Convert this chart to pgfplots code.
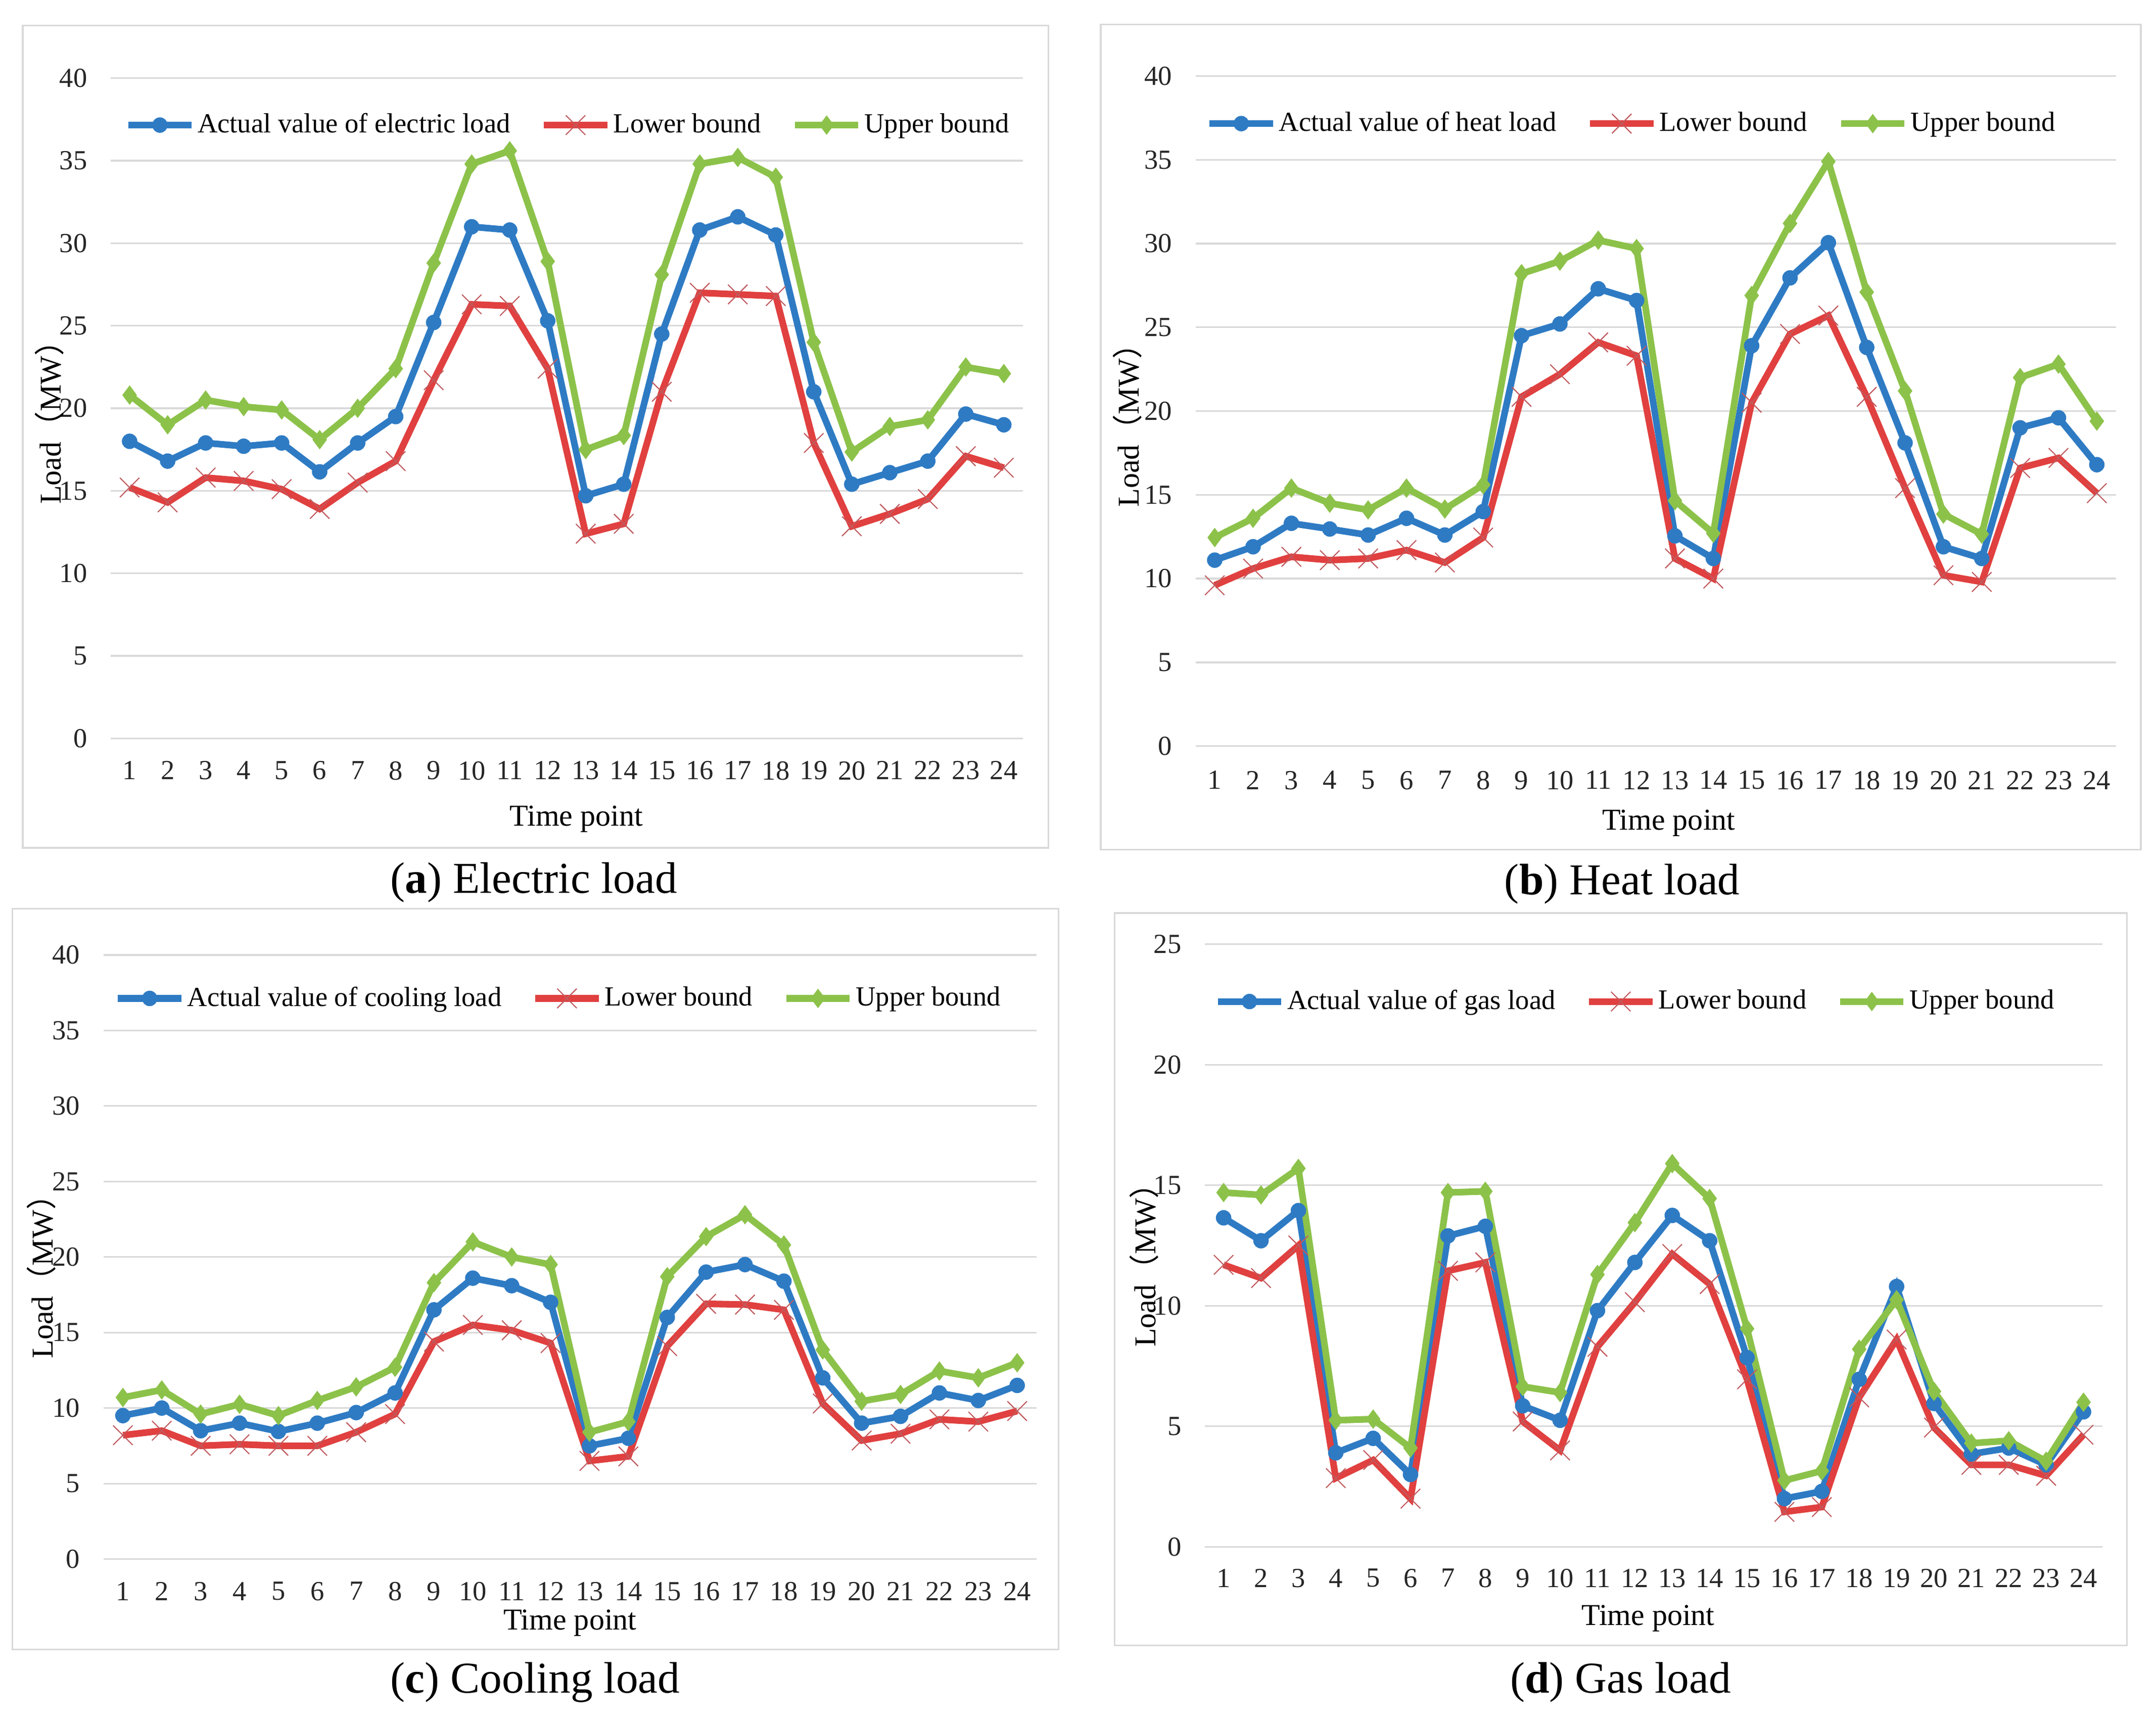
\documentclass[border=0pt]{standalone}
\usepackage{pgfplots}
\pgfplotsset{compat=1.18}
\usepackage{pgfplotstable}
\usepackage{fontspec}
\setmainfont{Liberation Serif}
\newfontfamily\cjk{Noto Sans CJK SC}

\definecolor{sblue}{HTML}{2E7BC4}
\definecolor{sred}{HTML}{E0403F}
\definecolor{sgreen}{HTML}{8CC24A}
\definecolor{xmk}{HTML}{C05A5E}
\definecolor{gridgray}{HTML}{D9D9D9}

% electric load
\pgfplotstableread{
t act low up
1 18.0 15.2 20.8
2 16.8 14.3 19.0
3 17.9 15.8 20.5
4 17.7 15.6 20.1
5 17.9 15.1 19.9
6 16.15 13.9 18.1
7 17.9 15.5 20.0
8 19.5 16.8 22.4
9 25.2 21.7 28.8
10 31.0 26.3 34.8
11 30.8 26.2 35.6
12 25.3 22.4 28.9
13 14.7 12.4 17.5
14 15.4 13.0 18.35
15 24.5 21.0 28.1
16 30.8 27.0 34.8
17 31.6 26.9 35.2
18 30.5 26.8 34.0
19 21.0 17.9 24.0
20 15.4 12.85 17.35
21 16.1 13.6 18.9
22 16.8 14.5 19.3
23 19.65 17.1 22.5
24 19.0 16.4 22.1
}\elec

% heat load
\pgfplotstableread{
t act low up
1 11.1 9.6 12.45
2 11.9 10.6 13.6
3 13.3 11.3 15.4
4 12.96 11.1 14.5
5 12.6 11.2 14.1
6 13.6 11.7 15.4
7 12.6 10.96 14.15
8 14.0 12.45 15.6
9 24.5 20.85 28.2
10 25.2 22.2 28.95
11 27.3 24.1 30.2
12 26.6 23.3 29.7
13 12.55 11.2 14.65
14 11.2 10.0 12.7
15 23.9 20.5 26.9
16 27.95 24.6 31.2
17 30.05 25.7 34.9
18 23.8 20.85 27.1
19 18.1 15.4 21.2
20 11.9 10.2 13.85
21 11.2 9.8 12.65
22 19.0 16.6 22.0
23 19.6 17.2 22.8
24 16.8 15.1 19.4
}\heat

% cooling load
\pgfplotstableread{
t act low up
1 9.5 8.2 10.7
2 10.0 8.5 11.2
3 8.5 7.5 9.6
4 9.0 7.6 10.25
5 8.45 7.5 9.5
6 9.0 7.5 10.5
7 9.7 8.4 11.4
8 11.0 9.6 12.7
9 16.5 14.4 18.3
10 18.6 15.5 21.0
11 18.1 15.15 20.0
12 17.0 14.3 19.5
13 7.5 6.5 8.4
14 8.0 6.8 9.1
15 16.0 14.1 18.7
16 19.0 16.9 21.35
17 19.5 16.85 22.8
18 18.4 16.5 20.8
19 12.0 10.3 13.85
20 9.0 7.85 10.45
21 9.45 8.3 10.9
22 11.0 9.25 12.45
23 10.5 9.1 12.0
24 11.5 9.8 13.0
}\cool

% gas load
\pgfplotstableread{
t act low up
1 13.65 11.7 14.7
2 12.7 11.15 14.6
3 13.95 12.5 15.7
4 3.9 2.85 5.25
5 4.5 3.6 5.3
6 3.0 2.0 4.1
7 12.9 11.45 14.7
8 13.3 11.8 14.75
9 5.85 5.2 6.65
10 5.25 4.0 6.4
11 9.8 8.3 11.3
12 11.8 10.15 13.45
13 13.75 12.15 15.9
14 12.7 10.9 14.45
15 7.85 6.95 9.05
16 2.0 1.45 2.75
17 2.3 1.65 3.15
18 6.95 6.2 8.2
19 10.8 8.6 10.25
20 5.95 4.95 6.45
21 3.85 3.4 4.3
22 4.1 3.4 4.4
23 3.4 2.95 3.55
24 5.6 4.65 6.0
}\gas

\pgfplotsset{
  loadaxis/.style={
    scale only axis,
    anchor=south west,
    xmin=0.5, xmax=24.5,
    xtick={1,...,24},
    ymin=0,
    ymajorgrids,
    major grid style={draw=gridgray, line width=0.6pt},
    axis line style={draw=none},
    tick style={draw=none},
    /pgf/number format/assume math mode=true,
    tick label style={font=\fontsize{10}{12}\selectfont, text=black!85},
    yticklabel style={xshift=-5pt},
    label style={font=\fontsize{11}{13}\selectfont},
    ylabel={Load{\cjk （}MW{\cjk ）}},
    xlabel={Time point},
    legend columns=3,
    legend style={draw=none, fill=none, inner sep=0pt,
      font=\fontsize{10}{12}\selectfont,
      nodes={inner sep=1pt},
      /tikz/every even column/.append style={column sep=10pt}},
    legend image code/.code={
      \draw[mark repeat=2, mark phase=2, ##1]
        plot coordinates {(0pt,0pt) (11.5pt,0pt) (23pt,0pt)};},
  },
  actline/.style={color=sblue, line width=2.4pt, mark=*, mark size=2.6pt,
    mark options={fill=sblue, draw=sblue, line width=0.4pt}},
  lowline/.style={color=sred, line width=2.4pt, mark=x, mark size=5pt,
    mark options={draw=xmk, line width=0.4pt}},
  upline/.style={color=sgreen, line width=2.4pt, mark=diamond*, mark size=3.2pt,
    mark options={fill=sgreen, draw=sgreen, line width=0.4pt}},
}

\begin{document}
\begin{tikzpicture}
\path[use as bounding box] (0pt,0pt) rectangle (781.5pt,-625pt);

% panel frames
\draw[gridgray, line width=0.6pt] (8.25pt,-9.25pt) rectangle (380pt,-307.4pt);
\draw[gridgray, line width=0.6pt] (399pt,-8.85pt) rectangle (776pt,-308pt);
\draw[gridgray, line width=0.6pt] (4.5pt,-329.5pt) rectangle (383.75pt,-598pt);
\draw[gridgray, line width=0.6pt] (404pt,-331pt) rectangle (771pt,-596.5pt);

% (a) electric
\begin{axis}[loadaxis,
  at={(40.1pt,-267.7pt)}, width=330.65pt, height=239.35pt,
  ymax=40, ytick={0,5,...,40},
  xticklabel style={yshift=-4.8pt},
  xlabel style={at={(axis description cs:0.5,0)}, anchor=center, yshift=-29.3pt, xshift=3.5pt},
  ylabel style={at={(axis description cs:-0.067,0.49)}, anchor=center},
  legend style={at={(axis description cs:0.015,0.929)}, anchor=west},
]
\addplot[actline] table[x=t, y=act] {\elec};
\addlegendentry{Actual value of electric load}
\addplot[lowline] table[x=t, y=low] {\elec};
\addlegendentry{Lower bound}
\addplot[upline] table[x=t, y=up] {\elec};
\addlegendentry{Upper bound}
\end{axis}

% (b) heat
\begin{axis}[loadaxis,
  at={(433.35pt,-270.5pt)}, width=333.65pt, height=242.95pt,
  ymax=40, ytick={0,5,...,40},
  xticklabel style={yshift=-5.5pt},
  xlabel style={at={(axis description cs:0.5,0)}, anchor=center, yshift=-28pt, xshift=4.7pt},
  ylabel style={at={(axis description cs:-0.074,0.49)}, anchor=center},
  legend style={at={(axis description cs:0.011,0.929)}, anchor=west},
]
\addplot[actline] table[x=t, y=act] {\heat};
\addlegendentry{Actual value of heat load}
\addplot[lowline] table[x=t, y=low] {\heat};
\addlegendentry{Lower bound}
\addplot[upline] table[x=t, y=up] {\heat};
\addlegendentry{Upper bound}
\end{axis}

% (c) cooling
\begin{axis}[loadaxis,
  at={(37.5pt,-565.25pt)}, width=338.25pt, height=219.05pt,
  ymax=40, ytick={0,5,...,40},
  xticklabel style={yshift=-4.8pt},
  xlabel style={at={(axis description cs:0.5,0)}, anchor=center, yshift=-23.1pt},
  ylabel style={at={(axis description cs:-0.0665,0.48)}, anchor=center},
  legend style={at={(axis description cs:0.0114,0.928)}, anchor=west},
]
\addplot[actline] table[x=t, y=act] {\cool};
\addlegendentry{Actual value of cooling load}
\addplot[lowline] table[x=t, y=low] {\cool};
\addlegendentry{Lower bound}
\addplot[upline] table[x=t, y=up] {\cool};
\addlegendentry{Upper bound}
\end{axis}

% (d) gas
\begin{axis}[loadaxis,
  at={(436.75pt,-560.8pt)}, width=325.25pt, height=218.45pt,
  ymax=25, ytick={0,5,...,25},
  xticklabel style={yshift=-4.5pt},
  xlabel style={at={(axis description cs:0.5,0)}, anchor=center, yshift=-26pt, xshift=-2pt},
  ylabel style={at={(axis description cs:-0.068,0.48)}, anchor=center},
  legend style={at={(axis description cs:0.01,0.905)}, anchor=west},
]
\addplot[actline] table[x=t, y=act] {\gas};
\addlegendentry{Actual value of gas load}
\addplot[lowline] table[x=t, y=low] {\gas};
\addlegendentry{Lower bound}
\addplot[upline] table[x=t, y=up] {\gas};
\addlegendentry{Upper bound}
\end{axis}

% captions
\node[font=\fontsize{16}{19}\selectfont] at (193.5pt,-320pt) {(\textbf{a}) Electric load};
\node[font=\fontsize{16}{19}\selectfont] at (588pt,-320.5pt) {(\textbf{b}) Heat load};
\node[font=\fontsize{16}{19}\selectfont] at (194pt,-610pt) {(\textbf{c}) Cooling load};
\node[font=\fontsize{16}{19}\selectfont] at (587.4pt,-610pt) {(\textbf{d}) Gas load};
\end{tikzpicture}
\end{document}
